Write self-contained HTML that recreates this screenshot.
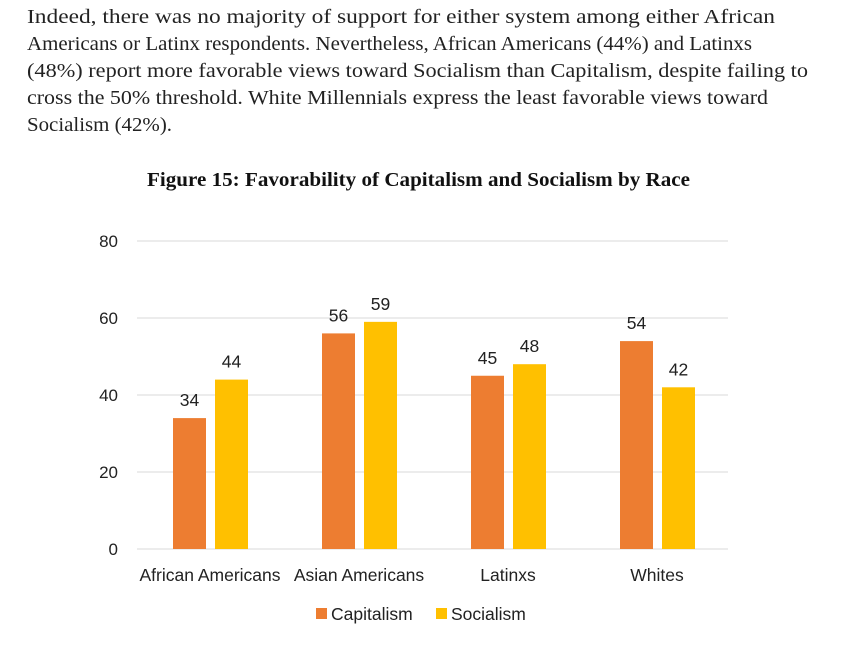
<!DOCTYPE html>
<html><head><meta charset="utf-8"><style>
body{margin:0;width:846px;height:651px;background:#fff;position:relative;overflow:hidden}
.p{position:absolute;left:27px;font-family:"Liberation Serif",serif;font-size:20px;color:#222;white-space:nowrap;transform-origin:0 0}
.t{position:absolute;left:147px;top:170px;font-family:"Liberation Serif",serif;font-weight:bold;font-size:19.5px;color:#111;white-space:nowrap;transform-origin:0 0}
svg text{font-family:"Liberation Sans",sans-serif;fill:#222}
</style></head><body>
<div>
<div class="p" style="top:6px" data-w="748">Indeed, there was no majority of support for either system among either African</div>
<div class="p" style="top:33px" data-w="725">Americans or Latinx respondents. Nevertheless, African Americans (44%) and Latinxs</div>
<div class="p" style="top:60px" data-w="781">(48%) report more favorable views toward Socialism than Capitalism, despite failing to</div>
<div class="p" style="top:87px" data-w="741">cross the 50% threshold. White Millennials express the least favorable views toward</div>
<div class="p" style="top:114px" data-w="145">Socialism (42%).</div>
</div>
<div class="t" data-w="543">Figure 15: Favorability of Capitalism and Socialism by Race</div>
<svg id="c" width="846" height="651" style="position:absolute;left:0;top:0"></svg>
<script>
const categories=["African Americans","Asian Americans","Latinxs","Whites"];
const capitalism=[34,56,45,54];
const socialism=[44,59,48,42];
const ticks=[0,20,40,60,80];
const seriesNames=["Capitalism","Socialism"];
const colors=["#ED7D31","#FFC000"];
document.querySelectorAll('[data-w]').forEach(d=>{const w=d.getBoundingClientRect().width;d.style.transform='scaleX('+(+d.dataset.w/w)+')';});
const svg=document.getElementById('c');const NS="http://www.w3.org/2000/svg";
const y=v=>549-v*(549-241)/80;
const gx=i=>210+i*149;
function mk(t,a){const e=document.createElementNS(NS,t);for(const k in a)e.setAttribute(k,a[k]);svg.appendChild(e);return e;}
ticks.forEach(v=>{
 const l=mk('line',{x1:137,x2:728,y1:y(v),y2:y(v),stroke:'#d9d9d9','stroke-width':1});
 
 
 const t=mk('text',{x:118,y:y(v)+6,'text-anchor':'end','font-size':17});t.textContent=v;
 
 
});
[capitalism,socialism].forEach((s,si)=>{
 s.forEach((v,i)=>{
  const x=gx(i)-37+si*42;
  const r=mk('rect',{x:x,y:y(v),width:33,height:y(0)-y(v),fill:colors[si]});
  
  
  const t=mk('text',{x:x+16.5,y:y(v)-12,'text-anchor':'middle','font-size':17.5});t.textContent=v;
  
  
 });
});
categories.forEach((c,i)=>{
 const t=mk('text',{x:gx(i),y:581,'text-anchor':'middle','font-size':17.5});t.textContent=c;
 
 
});
const lx=[316,436];
seriesNames.forEach((n,i)=>{
 const r=mk('rect',{x:lx[i],y:608,width:11,height:11,fill:colors[i]});
 
 
 const t=mk('text',{x:lx[i]+15,y:620,'font-size':17.5});t.textContent=n;
 
 
});
</script>
</body></html>
